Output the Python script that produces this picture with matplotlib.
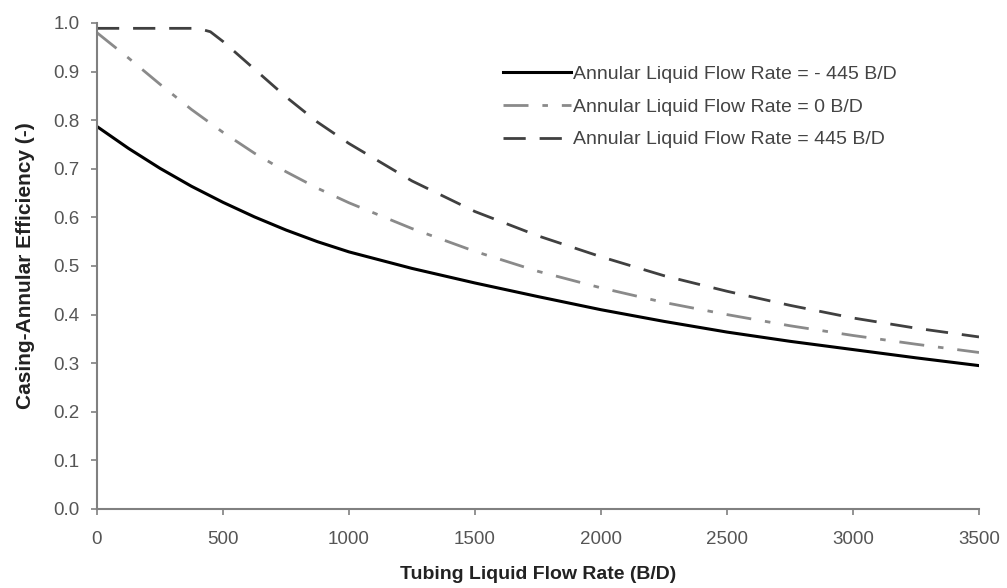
import matplotlib
matplotlib.use("Agg")
import matplotlib.pyplot as plt

plt.rcParams['font.family'] = ['Liberation Sans', 'DejaVu Sans']

x_neg = [0, 125, 250, 375, 500, 625, 750, 875, 1000, 1250, 1500, 1750, 2000, 2250, 2500, 2750, 3000, 3250, 3500]
y_neg = [0.787, 0.742, 0.701, 0.664, 0.631, 0.601, 0.574, 0.550, 0.529, 0.495, 0.465, 0.437, 0.410, 0.386, 0.364, 0.345, 0.328, 0.311, 0.295]

x_zero = [0, 125, 250, 375, 500, 625, 750, 875, 1000, 1250, 1500, 1750, 2000, 2250, 2500, 2750, 3000, 3250, 3500]
y_zero = [0.980, 0.928, 0.874, 0.822, 0.775, 0.732, 0.694, 0.660, 0.630, 0.577, 0.530, 0.489, 0.455, 0.425, 0.400, 0.377, 0.357, 0.339, 0.322]

x_pos = [0, 200, 400, 450, 500, 625, 750, 875, 1000, 1250, 1500, 1750, 2000, 2250, 2500, 2750, 3000, 3250, 3500]
y_pos = [0.989, 0.989, 0.989, 0.982, 0.962, 0.905, 0.848, 0.796, 0.752, 0.675, 0.612, 0.562, 0.519, 0.480, 0.448, 0.419, 0.393, 0.372, 0.354]

labels = ["Annular Liquid Flow Rate = - 445 B/D",
          "Annular Liquid Flow Rate = 0 B/D",
          "Annular Liquid Flow Rate = 445 B/D"]

fig = plt.figure(figsize=(10.07, 5.88), dpi=100)
ax = fig.add_axes([0.0963, 0.1344, 0.8759, 0.8265])

ax.plot(x_neg, y_neg, color="black", lw=2.2, label=labels[0])
ax.plot(x_zero, y_zero, color="#8a8a8a", lw=2.0, dashes=(9, 5, 2, 5), label=labels[1])
ax.plot(x_pos, y_pos, color="#404040", lw=2.0, dashes=(8, 5), label=labels[2])

ax.set_xlim(0, 3500)
ax.set_ylim(0, 1.0)
ax.set_xticks(range(0, 3501, 500))
ax.set_yticks([i / 10 for i in range(11)])
ax.set_yticklabels([f"{i/10:.1f}" for i in range(11)])

for s in ["top", "right"]:
    ax.spines[s].set_visible(False)
for s in ["left", "bottom"]:
    ax.spines[s].set_color("#808080")
    ax.spines[s].set_linewidth(1.5)
ax.tick_params(colors="#808080", labelcolor="#555555", labelsize=13.5, length=4, width=1.2)
ax.tick_params(axis="x", pad=12)
ax.tick_params(axis="y", pad=8.5)

ax.set_xlabel("Tubing Liquid Flow Rate (B/D)", fontsize=14, fontweight="bold", color="#222222", labelpad=13)
ax.set_ylabel("Casing-Annular Efficiency (-)", fontsize=15, fontweight="bold", color="#222222", labelpad=13)

leg = ax.legend(loc="upper left", bbox_to_anchor=(0.46, 0.913), frameon=False, fontsize=14,
                handlelength=3.5, handletextpad=0.1, labelspacing=0.78, borderpad=0, borderaxespad=0)
for t in leg.get_texts():
    t.set_color("#444444")

fig.savefig("out.png", dpi=100)
